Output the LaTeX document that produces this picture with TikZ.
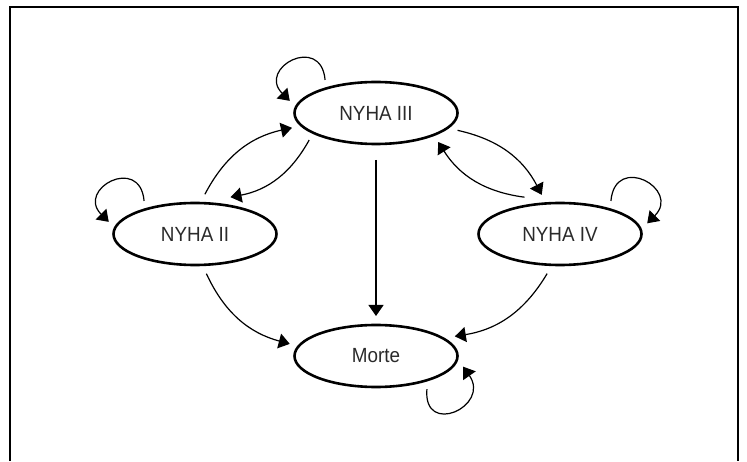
\documentclass[tikz,border=0pt]{standalone}
\usepackage{fontspec}
\usepackage{tikz}
\usetikzlibrary{shapes.geometric}
\usetikzlibrary{arrows.meta}
\newfontfamily\statefont{Liberation Sans}[FakeStretch=0.92]
\definecolor{color_state_text}{HTML}{2A2A2A}
\definecolor{color_frame}{HTML}{000000}
\def\statelinewidth{2.6pt}
\def\edgelinewidth{1.2pt}
\def\framelinewidth{2pt}
\def\stategap{9pt}
\def\loopstretch{2.9}
\tikzset{
    nyhastate/.style={ellipse, draw, line width=\statelinewidth, minimum width=163pt, minimum height=62pt,
        inner sep=0pt, outer sep=\stategap, text=color_state_text, font=\statefont\fontsize{20.5}{24}\selectfont},
    transition/.style={line width=\edgelinewidth, -{Triangle[length=11pt,width=15pt]}},
}

\begin{document}
\begin{tikzpicture}[x=1pt,y=1pt]
        \useasboundingbox (0,0) rectangle (747,461);
        % open frame
        \draw[color_frame, line width=\framelinewidth] (9.5,0) -- (9.5,453.5) -- (737.5,453.5) -- (737.5,0);
        % the states
        \node[nyhastate] (iii) at (376,348) {NYHA III};
        \node[nyhastate] (ii) at (195,227) {NYHA II};
        \node[nyhastate] (iv) at (560,227) {NYHA IV};
        \node[nyhastate] (morte) at (376,105) {Morte};
        % transitions between states
        \draw[transition] (ii.76) to[bend left=25] (iii.190);
        \draw[transition] (iii.202) to[bend left=25] (ii.46);
        \draw[transition] (iii.348) to[bend left=25] (iv.115);
        \draw[transition] (iv.134) to[bend left=25] (iii.335);
        \draw[transition, shorten <=7pt] (iii.south) -- (morte.north);
        \draw[transition] (ii.286) to[bend right=25] (morte.172);
        \draw[transition] (iv.252) to[bend left=25] (morte.14);
        % staying in the same state
        \draw[transition] (iii.147) to[out=95,in=135,looseness=\loopstretch] (iii.172);
        \draw[transition] (ii.147) to[out=95,in=135,looseness=\loopstretch] (ii.172);
        \draw[transition] (iv.33) to[out=85,in=45,looseness=\loopstretch] (iv.7);
        \draw[transition] (morte.327) to[out=265,in=305,looseness=\loopstretch] (morte.353);
    \end{tikzpicture}
\end{document}
